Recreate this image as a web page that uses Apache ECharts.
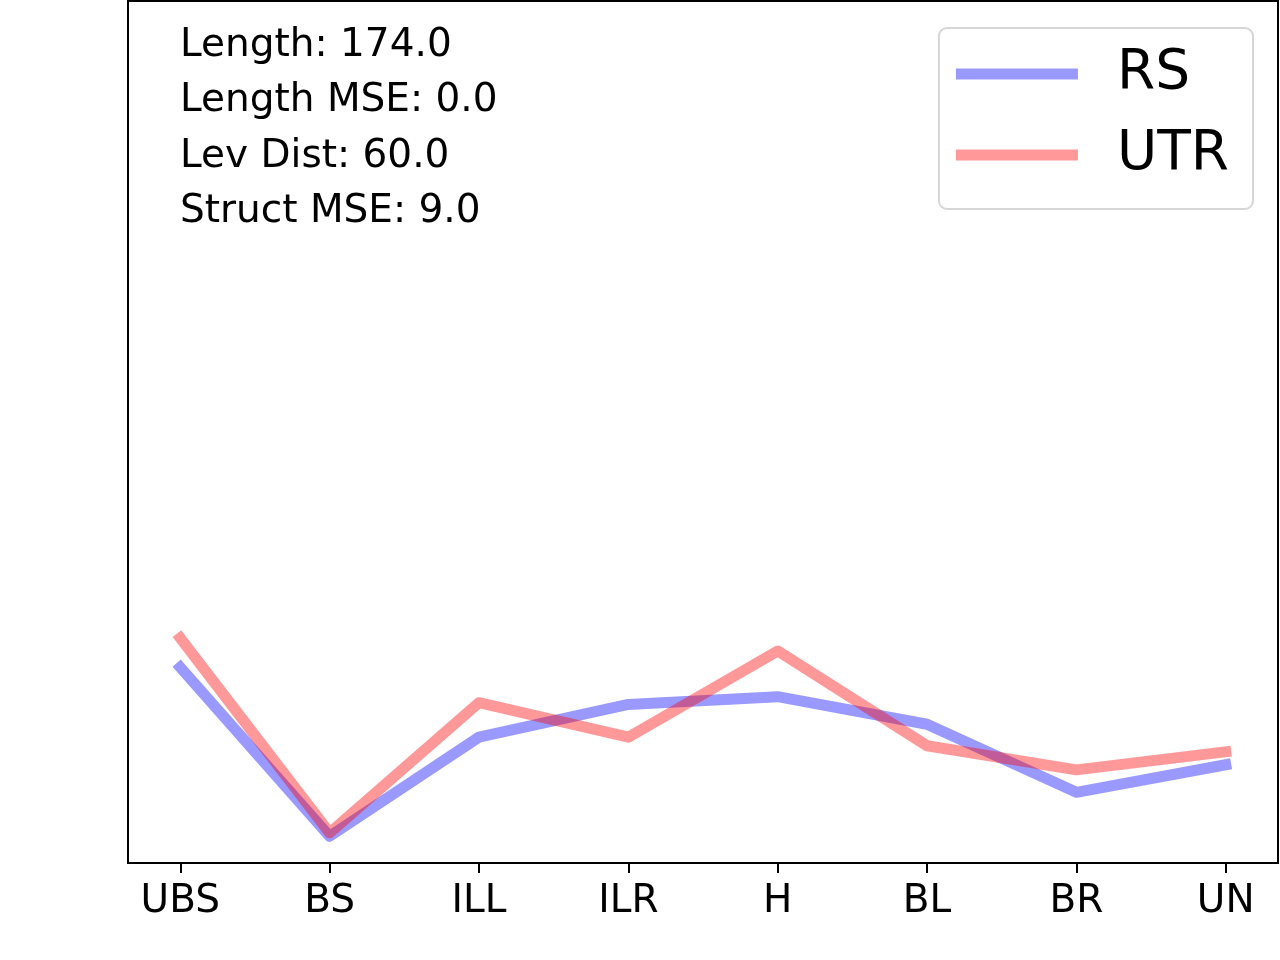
<!DOCTYPE html>
<html>
<head>
<meta charset="utf-8">
<script src="https://cdn.jsdelivr.net/npm/echarts@6/dist/echarts.min.js"></script>
<style>
  html, body { margin: 0; padding: 0; background: #fff; }
  #chart { width: 1280px; height: 960px; }
</style>
</head>
<body>
<div id="chart"></div>
<script>
// categories along x
const categories = ['UBS', 'BS', 'ILL', 'ILR', 'H', 'BL', 'BR', 'UN'];
// series values (y axis has no ticks, read as relative heights 0-100)
const rsValues  = [22.7, 3.1, 14.6, 18.4, 19.3, 16.1, 8.2, 11.4];
const utrValues = [26.1, 3.5, 18.6, 14.6, 24.6, 13.6, 10.8, 12.9];
// annotation lines in the top-left corner
const infoLines = ['Length: 174.0', 'Length MSE: 0.0', 'Lev Dist: 60.0', 'Struct MSE: 9.0'];

const FONT = 'DejaVu Sans';
const chart = echarts.init(document.getElementById('chart'));

// pair each value with its category index so the value x axis can add margins
const toPoints = vals => vals.map((v, i) => [i, v]);

const option = {
    animation: false,
    grid: {
        left: 128, right: 2, top: 1, bottom: 97,
        show: true,
        borderColor: '#000',
        borderWidth: 2,
        backgroundColor: 'transparent'
    },
    xAxis: {
        type: 'value',
        min: -0.35,
        max: categories.length - 1 + 0.35,
        splitLine: { show: false },
        axisLine: { show: false },
        axisTick: {
            show: true,
            length: 10,
            lineStyle: { color: '#000', width: 2 },
            customValues: categories.map((c, i) => i)
        },
        axisLabel: {
            fontFamily: FONT,
            fontSize: 39,
            color: '#000',
            margin: 19,
            customValues: categories.map((c, i) => i),
            formatter: v => categories[Math.round(v)]
        }
    },
    yAxis: {
        type: 'value',
        min: 0,
        max: 100,
        axisLine: { show: false },
        axisTick: { show: false },
        axisLabel: { show: false },
        splitLine: { show: false }
    },
    legend: {
        right: 27,
        top: 28,
        orient: 'vertical',
        icon: 'rect',
        itemWidth: 122,
        itemHeight: 11,
        itemGap: 15,
        padding: [13, 24, 21, 17],
        backgroundColor: '#fff',
        borderColor: '#d6d6d6',
        borderWidth: 2,
        borderRadius: 8,
        textStyle: {
            fontFamily: FONT,
            fontSize: 55,
            color: '#000',
            lineHeight: 60,
            padding: [6, 0, 0, 34]
        },
        data: [
            { name: 'RS', itemStyle: { color: '#9999ff' } },
            { name: 'UTR', itemStyle: { color: '#ff9999' } }
        ]
    },
    series: [
        {
            name: 'RS',
            type: 'line',
            data: toPoints(rsValues),
            showSymbol: false,
            itemStyle: { color: '#9999ff' },
            lineStyle: { color: 'blue', opacity: 0.4, width: 11, cap: 'square', join: 'round' }
        },
        {
            name: 'UTR',
            type: 'line',
            data: toPoints(utrValues),
            showSymbol: false,
            itemStyle: { color: '#ff9999' },
            lineStyle: { color: 'red', opacity: 0.4, width: 11, cap: 'square', join: 'round' }
        }
    ],
    graphic: infoLines.map((t, i) => ({
        type: 'text',
        left: 180,
        top: 26 + i * 55.5,
        style: {
            text: t,
            font: '39px "' + FONT + '"',
            fill: '#000'
        }
    }))
};

chart.setOption(option);
window.addEventListener('resize', () => chart.resize());
</script>
</body>
</html>
